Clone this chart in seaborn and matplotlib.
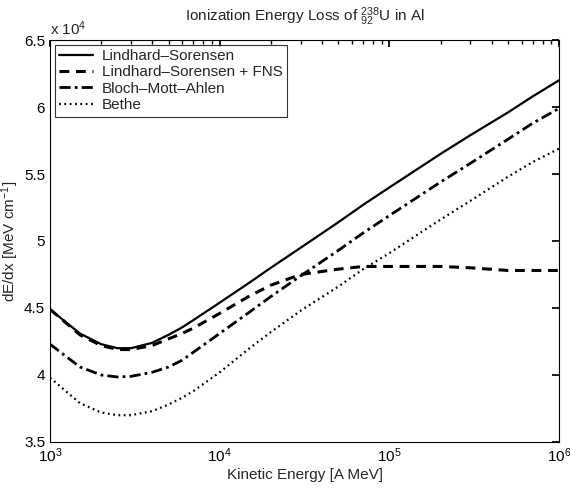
import matplotlib
matplotlib.use('Agg')
import matplotlib.pyplot as plt
import matplotlib.ticker as mticker
import seaborn as sns

# Kinetic energy [A MeV]
energy = [1e3, 1.5e3, 2e3, 2.5e3, 3e3, 4e3, 5e3, 6e3, 7e3, 1e4, 1.5e4, 2e4, 3e4,
          5e4, 7e4, 1e5, 2e5, 3e5, 5e5, 7e5, 1e6]

# dE/dx in units of 10^4 MeV/cm
lindhard = [4.49, 4.31, 4.23, 4.20, 4.20, 4.24, 4.30, 4.355, 4.41, 4.54, 4.69, 4.80, 4.95,
            5.14, 5.27, 5.40, 5.65, 5.79, 5.96, 6.08, 6.20]
lindhard_fns = [4.49, 4.30, 4.22, 4.19, 4.19, 4.22, 4.27, 4.31, 4.35, 4.46, 4.59, 4.67, 4.75,
                4.79, 4.81, 4.81, 4.81, 4.80, 4.78, 4.78, 4.78]
bloch = [4.23, 4.06, 4.00, 3.985, 3.99, 4.02, 4.06, 4.11, 4.17, 4.31, 4.47, 4.585, 4.74,
         4.93, 5.06, 5.19, 5.44, 5.58, 5.76, 5.88, 5.99]
bethe = [3.98, 3.79, 3.72, 3.70, 3.70, 3.73, 3.78, 3.83, 3.88, 4.02, 4.20, 4.32, 4.48,
         4.66, 4.79, 4.91, 5.16, 5.30, 5.48, 5.59, 5.69]

labels = ['Lindhard\u2013Sorensen', 'Lindhard\u2013Sorensen + FNS',
          'Bloch\u2013Mott\u2013Ahlen', 'Bethe']

sns.set_theme(style='white')
plt.rcParams['font.family'] = ['Liberation Sans', 'DejaVu Sans']
plt.rcParams['mathtext.default'] = 'regular'

fig = plt.figure(figsize=(5.7, 4.88), dpi=100)
ax = fig.add_axes([0.0877, 0.0943, 0.8933, 0.8237])

sns.lineplot(x=energy, y=lindhard, ax=ax, color='black', linewidth=1.6,
             linestyle='-', label=labels[0])
sns.lineplot(x=energy, y=lindhard_fns, ax=ax, color='black', linewidth=2.2,
             linestyle=(0, (3.2, 2.2)), label=labels[1])
sns.lineplot(x=energy, y=bloch, ax=ax, color='black', linewidth=2.0,
             linestyle=(0, (4, 1.5, 1, 1.5)), label=labels[2])
sns.lineplot(x=energy, y=bethe, ax=ax, color='black', linewidth=1.6,
             linestyle=(0, (0.8, 1.6)), label=labels[3])

ax.set_xscale('log')
ax.set_xlim(1e3, 1e6)
ax.set_ylim(3.5, 6.5)
ax.set_yticks([3.5, 4, 4.5, 5, 5.5, 6, 6.5])
ax.yaxis.set_major_formatter(mticker.FuncFormatter(lambda v, p: '%g' % v))
ax.xaxis.set_minor_locator(mticker.LogLocator(base=10, subs=range(2, 10)))
ax.tick_params(axis='both', which='both', direction='in', top=True, right=True,
               labelsize=11, colors='black')
ax.tick_params(which='major', length=5)
ax.tick_params(which='minor', length=3)
for s in ax.spines.values():
    s.set_color('black')
    s.set_linewidth(0.8)

ax.set_xlabel('Kinetic Energy [A MeV]', fontsize=11, labelpad=2)
ax.set_ylabel('dE/dx [MeV cm$^{-1}$]', fontsize=11, labelpad=2)
ax.set_title('Ionization Energy Loss of $^{238}_{92}$U in Al', fontsize=11, pad=14)
ax.text(0.0, 1.005, 'x 10$^4$', transform=ax.transAxes, fontsize=11,
        ha='left', va='bottom')

leg = ax.legend(loc='upper left', fontsize=11, frameon=True, fancybox=False,
                handlelength=2.2, borderpad=0.3, labelspacing=0.15,
                handletextpad=0.6, borderaxespad=0.3)
leg.get_frame().set_edgecolor('black')
leg.get_frame().set_linewidth(0.8)

fig.savefig('out.png', dpi=100)
